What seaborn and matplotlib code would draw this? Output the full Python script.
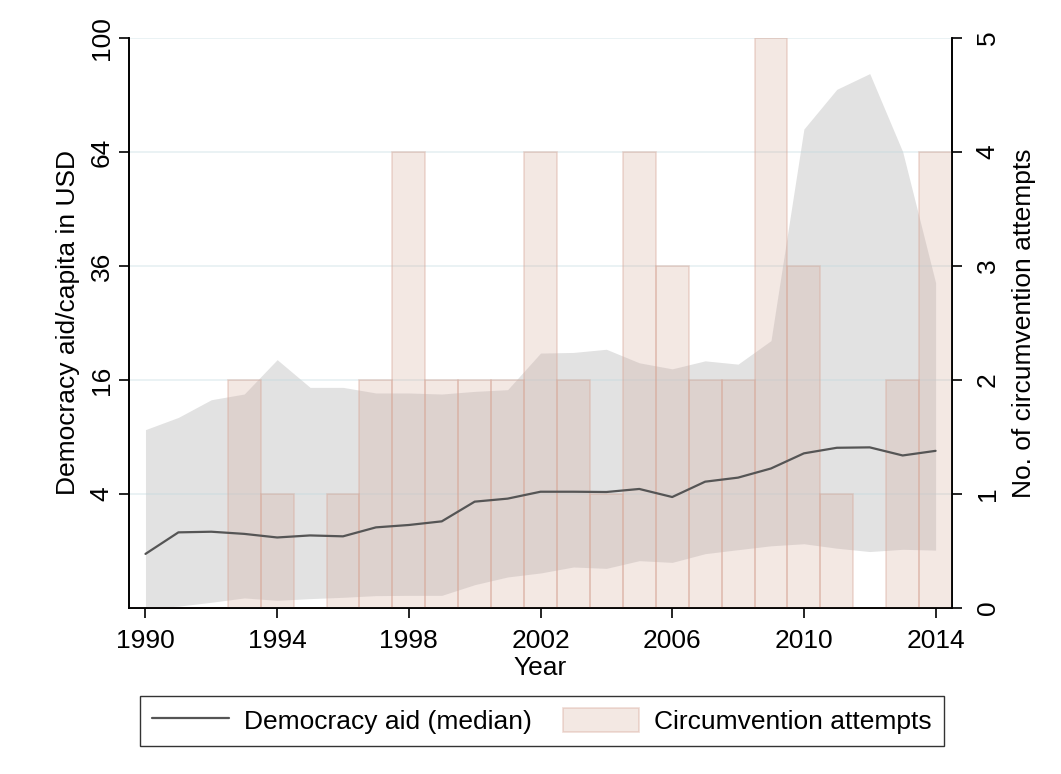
import numpy as np
import pandas as pd
import matplotlib
matplotlib.use("Agg")
import matplotlib.pyplot as plt
from matplotlib.patches import Patch
from matplotlib.lines import Line2D
import seaborn as sns

# ---- data -------------------------------------------------------------
years = list(range(1990, 2015))

# Median democracy aid per capita (USD)
aid_median = [0.90, 1.76, 1.79, 1.69, 1.53, 1.62, 1.58, 2.00, 2.12, 2.31,
              3.48, 3.68, 4.16, 4.16, 4.14, 4.36, 3.79, 4.91, 5.23, 5.99,
              7.36, 7.90, 7.94, 7.16, 7.60]
# Lower / upper bounds of the shaded range
aid_lower = [0.00, 0.001, 0.01, 0.031, 0.018, 0.027, 0.035, 0.047, 0.049, 0.049,
             0.167, 0.296, 0.377, 0.517, 0.483, 0.689, 0.640, 0.908, 1.046, 1.19,
             1.27, 1.10, 0.98, 1.06, 1.03]
aid_upper = [9.79, 11.18, 13.35, 14.09, 18.98, 14.98, 14.98, 14.23, 14.23, 14.09,
             14.44, 14.67, 20.0, 20.1, 20.6, 18.5, 17.6, 18.8, 18.3, 22.0,
             70.6, 82.8, 87.9, 64.1, 32.6]

# Number of circumvention attempts per year
attempts = [0, 0, 0, 2, 1, 0, 1, 2, 4, 2,
            2, 2, 4, 2, 1, 4, 3, 2, 2, 5,
            3, 1, 0, 2, 4]

left_ticks = [4, 16, 36, 64, 100]
right_ticks = [0, 1, 2, 3, 4, 5]
x_ticks = [1990, 1994, 1998, 2002, 2006, 2010, 2014]

df = pd.DataFrame({"year": years, "median": aid_median, "lower": aid_lower,
                   "upper": aid_upper, "attempts": attempts})

# ---- style ------------------------------------------------------------
sns.set_style("ticks")
plt.rcParams["font.family"] = ["Liberation Sans", "DejaVu Sans"]
plt.rcParams["text.color"] = "black"
plt.rcParams["axes.labelcolor"] = "black"
plt.rcParams["xtick.color"] = "black"
plt.rcParams["ytick.color"] = "black"
FS = 19

band_color = "#e2e2e2"
bar_face = (211 / 255, 170 / 255, 155 / 255, 0.27)
bar_edge = (215 / 255, 165 / 255, 150 / 255, 0.40)
line_color = "#555555"
grid_color = (190 / 255, 215 / 255, 222 / 255, 0.35)

fig = plt.figure(figsize=(10.61, 7.74), dpi=100)
ax = fig.add_axes([0.1216, 0.2145, 0.8973 - 0.1216, 0.9509 - 0.2145])

sqrt_scale = dict(functions=(lambda v: np.sqrt(np.clip(v, 0, None)), np.square))


def setup_sqrt(a):
    a.set_yscale("function", **sqrt_scale)
    a.set_ylim(0, 100)


# shaded range (left, square-root axis)
ax.fill_between(df["year"], df["lower"], df["upper"], color=band_color,
                linewidth=0, zorder=1)
setup_sqrt(ax)
ax.set_yticks(left_ticks)
ax.set_yticklabels([str(t) for t in left_ticks], rotation=90, va="center",
                   fontsize=FS)
for t in left_ticks:
    ax.axhline(t, color=grid_color, linewidth=1.3, zorder=2)
ax.set_xlim(1989.5, 2014.5)
ax.set_xticks(x_ticks)
ax.set_xticklabels([str(t) for t in x_ticks], fontsize=FS)
ax.set_xlabel("Year", fontsize=FS, labelpad=2)
ax.set_ylabel("Democracy aid/capita in USD", fontsize=FS, labelpad=7)

# bars (right axis)
ax2 = ax.twinx()
sns.barplot(data=df, x="year", y="attempts", native_scale=True, width=1.0,
            color=bar_face[:3], ax=ax2, errorbar=None)
for p in ax2.patches:
    p.set_facecolor(bar_face)
    p.set_edgecolor(bar_edge)
    p.set_linewidth(1.2)
ax2.set_ylim(0, 5)
ax2.set_yticks(right_ticks)
ax2.set_yticklabels([str(t) for t in right_ticks], rotation=90, va="center",
                    fontsize=FS)
ax2.set_ylabel("No. of circumvention attempts", fontsize=FS, labelpad=9)
ax2.set_xlim(1989.5, 2014.5)
ax2.set_xlabel("")

# median line on its own overlay so it sits above the bars
ax3 = ax.twinx()
sns.lineplot(data=df, x="year", y="median", color=line_color, linewidth=1.6,
             ax=ax3)
setup_sqrt(ax3)
ax3.set_xlim(1989.5, 2014.5)
ax3.axis("off")

# axes frame
for a in (ax, ax2):
    a.spines["top"].set_visible(False)
    for s in ("left", "bottom", "right"):
        a.spines[s].set_linewidth(1.2)
        a.spines[s].set_color("black")
ax.tick_params(axis="both", length=7, width=1.2, color="black", pad=4)
ax2.tick_params(axis="y", length=7, width=1.2, color="black", pad=10)
ax.tick_params(axis="x", pad=8)

# legend
handles = [Line2D([0], [0], color=line_color, linewidth=1.6),
           Patch(facecolor=bar_face, edgecolor=bar_edge, linewidth=1.2)]
labels = ["Democracy aid (median)", "Circumvention attempts"]
leg = fig.legend(handles, labels, loc="center", bbox_to_anchor=(0.5108, 0.0685),
                 ncol=2, fontsize=FS, frameon=True, fancybox=False,
                 handlelength=2.9, handleheight=1.0, columnspacing=1.17,
                 borderpad=0.45, handletextpad=0.57)
leg.get_frame().set_edgecolor("black")
leg.get_frame().set_linewidth(1.0)

fig.savefig("out.png", dpi=100)
